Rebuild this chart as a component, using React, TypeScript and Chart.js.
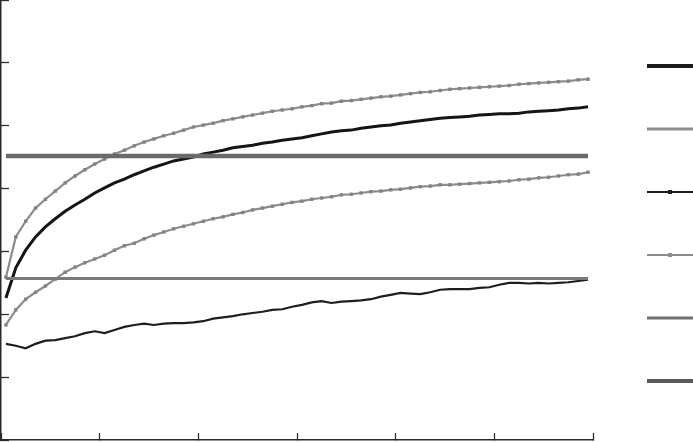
import React, { useEffect, useRef } from 'react';
import { Chart, registerables } from 'chart.js';

Chart.register(...registerables);

// categories (one point per run)
const runs = [
  1, 2, 3, 4, 5, 6, 7, 8, 9, 10,
  11, 12, 13, 14, 15, 16, 17, 18, 19, 20,
  21, 22, 23, 24, 25, 26, 27, 28, 29, 30,
  31, 32, 33, 34, 35, 36, 37, 38, 39, 40,
  41, 42, 43, 44, 45, 46, 47, 48, 49, 50,
  51, 52, 53, 54, 55, 56, 57, 58, 59, 60,
];

// upper black curve
const seriesB = [
  22.6, 27.4, 30.2, 32.3, 33.9, 35.2, 36.4, 37.4, 38.3, 39.3,
  40.1, 40.9, 41.5, 42.2, 42.8, 43.4, 43.9, 44.4, 44.7, 45.0,
  45.5, 45.8, 46.1, 46.5, 46.7, 46.9, 47.2, 47.4, 47.7, 47.9,
  48.1, 48.4, 48.7, 49.0, 49.2, 49.3, 49.6, 49.8, 50.0, 50.1,
  50.4, 50.6, 50.8, 51.0, 51.2, 51.3, 51.4, 51.5, 51.7, 51.8,
  51.9, 51.9, 52.0, 52.2, 52.3, 52.4, 52.5, 52.7, 52.8, 53.0,
];

// top grey curve
const seriesA = [
  25.9, 32.3, 34.8, 36.9, 38.3, 39.6, 40.9, 42.0, 43.0, 43.9,
  44.7, 45.5, 46.1, 46.8, 47.4, 47.9, 48.4, 48.8, 49.3, 49.8,
  50.1, 50.4, 50.8, 51.1, 51.4, 51.7, 52.0, 52.3, 52.5, 52.7,
  53.0, 53.2, 53.5, 53.6, 53.9, 54.0, 54.2, 54.4, 54.6, 54.7,
  54.9, 55.1, 55.3, 55.4, 55.6, 55.8, 55.9, 56.0, 56.1, 56.2,
  56.3, 56.4, 56.6, 56.7, 56.8, 56.9, 57.0, 57.1, 57.3, 57.4,
];

// lower black curve
const seriesD = [
  15.3, 15.0, 14.6, 15.3, 15.8, 15.9, 16.2, 16.5, 17.0, 17.3,
  17.0, 17.5, 18.0, 18.3, 18.5, 18.3, 18.5, 18.6, 18.6, 18.7,
  18.9, 19.3, 19.5, 19.7, 20.0, 20.2, 20.4, 20.7, 20.8, 21.2,
  21.5, 21.9, 22.1, 21.8, 22.0, 22.1, 22.2, 22.4, 22.8, 23.1,
  23.4, 23.3, 23.2, 23.5, 23.9, 24.0, 24.0, 24.0, 24.2, 24.3,
  24.7, 25.0, 25.0, 24.9, 25.0, 24.9, 25.0, 25.1, 25.3, 25.5,
];

// middle grey curve
const seriesC = [
  18.3, 20.7, 22.4, 23.5, 24.5, 25.6, 26.7, 27.5, 28.2, 28.8,
  29.4, 30.2, 30.9, 31.3, 32.0, 32.6, 33.1, 33.6, 34.0, 34.4,
  34.8, 35.2, 35.5, 35.9, 36.2, 36.6, 36.9, 37.2, 37.5, 37.8,
  38.0, 38.3, 38.5, 38.7, 39.0, 39.1, 39.3, 39.5, 39.6, 39.8,
  39.9, 40.1, 40.3, 40.4, 40.6, 40.6, 40.7, 40.8, 40.9, 41.0,
  41.1, 41.2, 41.4, 41.5, 41.7, 41.8, 42.0, 42.2, 42.3, 42.6,
];

// reference levels
const upperLimit = 45.2;
const lowerLimit = 25.7;

const first = runs[0];
const last = runs[runs.length - 1];

// legend drawn as line samples only (labels fall outside the visible area)
const legendLines = {
  id: 'legendLines',
  afterDraw(chart: any, _args: any, opts: any) {
    const { ctx, chartArea } = chart;
    chart.data.datasets.forEach((ds: any, i: number) => {
      const x0 = chartArea.right + opts.gap;
      const y = chartArea.top + opts.top + i * opts.spacing;
      ctx.save();
      ctx.strokeStyle = ds.legendColor || ds.borderColor;
      ctx.lineWidth = ds.legendWidth || ds.borderWidth;
      ctx.beginPath();
      ctx.moveTo(x0, y);
      ctx.lineTo(x0 + opts.length, y);
      ctx.stroke();
      if (ds.legendMarker) {
        ctx.fillStyle = ds.legendColor || ds.borderColor;
        ctx.fillRect(x0 + 21, y - 2, 4, 4);
      }
      ctx.restore();
    });
  },
};

export default function App() {
  const canvasRef = useRef<HTMLCanvasElement>(null);

  useEffect(() => {
    if (!canvasRef.current) return;

    const chart = new Chart(canvasRef.current, {
      type: 'line',
      data: {
        labels: runs,
        datasets: [
          {
            label: 'Series 1',
            data: seriesB,
            borderColor: '#151515',
            borderWidth: 3,
            pointRadius: 0,
            legendWidth: 4,
            legendColor: '#1c1c1c',
            order: 1,
          },
          {
            label: 'Series 2',
            data: seriesA,
            borderColor: '#8c8c8c',
            borderWidth: 2.2,
            pointStyle: 'rect',
            pointRadius: 2.4,
            pointBorderWidth: 0,
            pointBackgroundColor: '#838383',
            legendWidth: 3,
            order: 1,
          },
          {
            label: 'Series 3',
            data: seriesD,
            borderColor: '#1e1e1e',
            borderWidth: 2.2,
            pointRadius: 0,
            legendWidth: 2,
            legendMarker: true,
            order: 1,
          },
          {
            label: 'Series 4',
            data: seriesC,
            borderColor: '#8c8c8c',
            borderWidth: 2.2,
            pointStyle: 'rect',
            pointRadius: 2.4,
            pointBorderWidth: 0,
            pointBackgroundColor: '#838383',
            legendMarker: true,
            legendWidth: 2,
            order: 1,
          },
          {
            label: 'Series 5',
            data: [{ x: first, y: lowerLimit }, { x: last, y: lowerLimit }],
            borderColor: '#7a7a7a',
            borderWidth: 3,
            pointRadius: 0,
            legendColor: '#707070',
            order: 0,
          },
          {
            label: 'Series 6',
            data: [{ x: first, y: upperLimit }, { x: last, y: upperLimit }],
            borderColor: '#6a6a6a',
            borderWidth: 4.5,
            pointRadius: 0,
            legendColor: '#5a5a5a',
            legendWidth: 4,
            order: 0,
          },
        ] as any,
      },
      options: {
        responsive: true,
        maintainAspectRatio: false,
        animation: false,
        layout: { autoPadding: false, padding: { left: 0, top: 0, right: 100, bottom: 0 } },
        elements: { line: { tension: 0 } },
        plugins: {
          legend: { display: false },
          tooltip: { enabled: false },
          legendLines: { gap: 54, top: 66, spacing: 63, length: 60 },
        } as any,
        scales: {
          x: {
            type: 'category',
            offset: true,
            afterFit: (s: any) => { s.height = 2; },
            ticks: { display: false },
            grid: {
              offset: true,
              drawOnChartArea: false,
              drawTicks: true,
              tickLength: -7,
              tickWidth: 1.3,
              tickColor: (c: any) =>
                c.type === 'scale' || c.index % 10 === 0 ? '#2e2e2e' : 'rgba(0,0,0,0)',
            },
            border: { display: true, color: '#2a2a2a', width: 1.5 },
          },
          y: {
            min: 0,
            max: 70,
            afterFit: (s: any) => { s.width = 1; },
            ticks: { display: false, stepSize: 10 },
            grid: {
              drawOnChartArea: false,
              drawTicks: true,
              tickLength: -8,
              tickWidth: 1.3,
              tickColor: '#2e2e2e',
            },
            border: { display: true, color: '#2a2a2a', width: 1.5 },
          },
        },
      },
      plugins: [legendLines],
    });

    return () => chart.destroy();
  }, []);

  return (
    <div style={{ position: 'absolute', left: 0, top: 0, width: 693, height: 442, background: '#fff' }}>
      <canvas ref={canvasRef}></canvas>
    </div>
  );
}
